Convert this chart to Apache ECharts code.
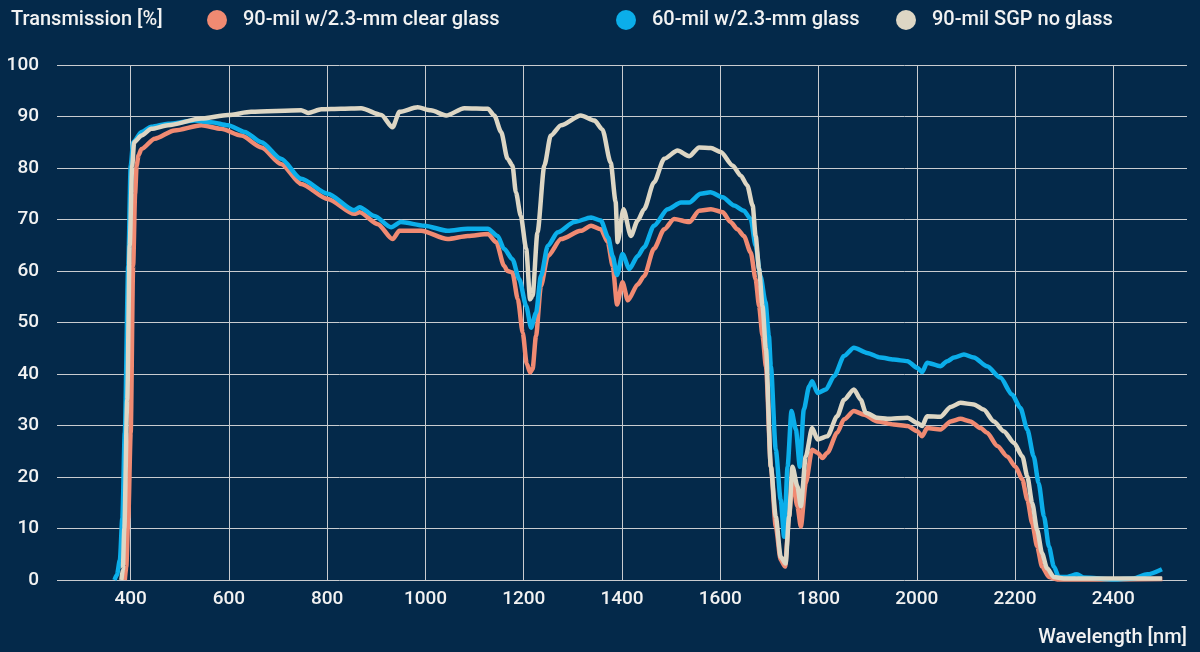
<!DOCTYPE html>
<html>
<head>
<meta charset="utf-8">
<script src="https://cdn.jsdelivr.net/npm/echarts@6/dist/echarts.min.js"></script>
<style>
  html, body { margin: 0; padding: 0; background: #04294a; }
  #chart { width: 1200px; height: 652px; }
</style>
</head>
<body>
<div id="chart"></div>
<script>
// tick labels on the wavelength axis
var xTicks = [400, 600, 800, 1000, 1200, 1400, 1600, 1800, 2000, 2200, 2400];

// 90-mil w/2.3-mm clear glass
var clearNm = [388, 391, 395, 400, 405, 409, 412, 416, 422, 449, 489, 544, 584, 625, 666, 706, 747, 801, 855, 866, 903, 933, 947, 991, 1045, 1086, 1127, 1144, 1160, 1167, 1177, 1188, 1198, 1206, 1213, 1218, 1225, 1235, 1249, 1276, 1316, 1337, 1357, 1371, 1381, 1390, 1401, 1412, 1432, 1445, 1465, 1486, 1506, 1537, 1557, 1581, 1605, 1621, 1635, 1648, 1662, 1672, 1679, 1686, 1693, 1703, 1713, 1723, 1732, 1740, 1747, 1757, 1764, 1774, 1787, 1798, 1808, 1818, 1838, 1852, 1872, 1893, 1920, 1953, 1981, 2001, 2011, 2021, 2048, 2069, 2089, 2109, 2130, 2143, 2164, 2184, 2201, 2215, 2225, 2235, 2245, 2255, 2269, 2286, 2400, 2500];
var clearT = [0, 2.5, 12, 28.6, 61, 75, 80.4, 82.5, 83.7, 85.7, 87.3, 88.3, 87.6, 86.3, 84, 80.8, 76.9, 74, 71.1, 71.4, 69.1, 66.2, 67.8, 67.8, 66.2, 66.8, 67.2, 65.6, 61, 60, 59.7, 54.5, 48, 42, 40.3, 41, 47.4, 57.1, 62.9, 66.2, 67.8, 68.8, 68.1, 65.6, 61, 53.5, 57.8, 54.3, 57.4, 59, 64.3, 68.1, 70.1, 69.5, 71.7, 72, 71.4, 69.5, 68.1, 66.8, 63.6, 58.4, 53.2, 47.4, 41.5, 22, 10.4, 3.9, 2.6, 12.3, 19.5, 14.3, 10.4, 18.8, 25.3, 24.7, 23.7, 24.7, 28.6, 31.2, 32.8, 32.1, 30.8, 30.2, 29.9, 28.9, 27.9, 29.5, 29.2, 30.8, 31.3, 30.8, 29.5, 28.6, 26, 24, 22, 19.5, 15.6, 11, 6.5, 2.6, 0.6, 0.1, 0.1, 0.2];

// 60-mil w/2.3-mm glass
var glass60Nm = [367, 372, 378, 383, 388, 395, 400, 405, 422, 442, 476, 530, 564, 598, 632, 666, 706, 747, 801, 855, 866, 896, 930, 950, 998, 1045, 1086, 1127, 1147, 1160, 1177, 1191, 1205, 1215, 1225, 1235, 1249, 1269, 1303, 1337, 1357, 1372, 1381, 1390, 1401, 1415, 1432, 1445, 1465, 1493, 1520, 1537, 1560, 1580, 1605, 1628, 1648, 1662, 1672, 1682, 1692, 1699, 1703, 1713, 1723, 1730, 1737, 1745, 1754, 1762, 1770, 1781, 1787, 1798, 1815, 1832, 1852, 1872, 1899, 1926, 1953, 1981, 2001, 2011, 2021, 2048, 2062, 2076, 2096, 2116, 2143, 2170, 2194, 2211, 2225, 2238, 2248, 2259, 2269, 2279, 2289, 2306, 2326, 2340, 2401, 2441, 2469, 2499];
var glass60T = [0, 1, 3.9, 12, 28.6, 61, 80.4, 85, 87, 88, 88.6, 89.2, 88.9, 88.3, 87, 85, 81.8, 77.9, 75, 71.8, 72.4, 70.7, 68.5, 69.5, 68.8, 67.8, 68.2, 68.2, 66.8, 64.3, 62.3, 58.4, 53.2, 49, 51.9, 59, 64.9, 67.5, 69.5, 70.4, 69.8, 66.5, 62.9, 59.2, 63.3, 60.4, 62.9, 64.6, 68.8, 72, 73.3, 73.3, 75, 75.3, 74.3, 72.7, 71.7, 70.1, 64.9, 59, 54, 47.4, 41.5, 25.3, 15.6, 8.4, 22, 32.8, 29.2, 22, 33.1, 37.6, 38.6, 36.3, 37, 39.6, 43.5, 45.1, 44.1, 43.2, 42.8, 42.5, 41.2, 40.4, 42.2, 41.5, 42.5, 43.2, 43.8, 43.2, 41.5, 39.3, 36, 33.4, 29.2, 24, 18.8, 12.3, 6.5, 2.6, 0.6, 0.6, 1.1, 0.5, 0.1, 0.3, 1.1, 2.1];

// 90-mil SGP no glass
var sgpNm = [381, 384, 387, 393, 398, 403, 407, 422, 442, 476, 544, 598, 645, 747, 761, 788, 828, 869, 910, 933, 947, 984, 1011, 1042, 1079, 1127, 1140, 1154, 1167, 1177, 1184, 1194, 1205, 1213, 1218, 1228, 1242, 1255, 1276, 1316, 1344, 1360, 1377, 1387, 1391, 1403, 1418, 1432, 1445, 1465, 1486, 1513, 1537, 1557, 1581, 1601, 1625, 1642, 1655, 1666, 1672, 1679, 1686, 1693, 1703, 1713, 1723, 1733, 1740, 1747, 1757, 1764, 1774, 1787, 1798, 1818, 1838, 1852, 1872, 1886, 1896, 1920, 1940, 1981, 2001, 2011, 2021, 2048, 2069, 2089, 2116, 2136, 2157, 2177, 2198, 2215, 2225, 2235, 2245, 2255, 2265, 2279, 2299, 2499];
var sgpT = [0, 2, 10, 35, 65, 80.4, 85, 86.3, 87.6, 88.3, 89.6, 90.3, 90.9, 91.2, 90.7, 91.4, 91.5, 91.6, 90.3, 87.9, 90.9, 91.8, 91.2, 90.2, 91.6, 91.5, 90.2, 87, 81.8, 80.5, 75.3, 70.7, 64.3, 54.5, 55.2, 67.5, 80.5, 86.3, 88.3, 90.2, 89.2, 87.5, 81, 73.5, 65.6, 72, 66.8, 69.8, 72, 77.2, 81.8, 83.4, 82.3, 84, 83.9, 83.1, 80.5, 78.5, 76.6, 72.7, 66.8, 60.4, 53.2, 44.8, 22, 12.3, 4.5, 3.2, 12.3, 22, 18.2, 14.3, 24, 29.5, 27.3, 27.9, 31.8, 35, 37, 35, 32.5, 31.5, 31.3, 31.5, 30.5, 29.9, 31.8, 31.7, 33.6, 34.4, 34.1, 33.1, 30.8, 28.9, 26.6, 24, 20.1, 14.9, 9.7, 5.2, 2.3, 0.6, 0.3, 0.3];

function pairs(xs, ys) {
    return xs.map(function (x, i) { return [x, ys[i]]; });
}

var textColor = '#f2f2f2';
var fontFamily = 'Roboto, "Noto Sans", sans-serif';

var chart = echarts.init(document.getElementById('chart'));

function lineSeries(name, color, data) {
    return {
        name: name,
        type: 'line',
        data: data,
        showSymbol: false,
        smooth: 0.25,
        smoothMonotone: 'x',
        lineStyle: { color: color, width: 4.5 },
        itemStyle: { color: color }
    };
}

function legendAt(name, left) {
    return {
        data: [{ name: name, icon: 'circle' }],
        left: left,
        top: 10,
        itemWidth: 20,
        itemHeight: 20,
        padding: 0,
        selectedMode: false,
        textStyle: { color: textColor, fontSize: 20, fontWeight: 500, fontFamily: fontFamily, padding: [0, 0, 0, 11] }
    };
}

var option = {
    backgroundColor: '#04294a',
    animation: false,
    textStyle: { fontFamily: fontFamily },
    title: [
        {
            text: 'Transmission [%]',
            left: 6,
            top: 5,
            textStyle: { color: textColor, fontSize: 20, fontWeight: 500, fontFamily: fontFamily }
        },
        {
            text: 'Wavelength [nm]',
            right: 8,
            top: 623,
            textStyle: { color: textColor, fontSize: 20, fontWeight: 500, fontFamily: fontFamily }
        }
    ],
    legend: [
        legendAt('90-mil w/2.3-mm clear glass', 207),
        legendAt('60-mil w/2.3-mm glass', 616),
        legendAt('90-mil SGP no glass', 896)
    ],
    grid: { left: 57, right: 13, top: 65, bottom: 72 },
    xAxis: {
        type: 'value',
        min: 250,
        max: 2550,
        axisLine: { show: false },
        axisTick: { show: false, customValues: xTicks },
        axisLabel: {
            customValues: xTicks,
            color: textColor,
            fontSize: 19,
            fontWeight: 500,
            margin: 10,
            formatter: function (v) { return String(v); }
        },
        splitLine: { show: true, lineStyle: { color: '#c9ccd0', width: 1 } }
    },
    yAxis: {
        type: 'value',
        min: 0,
        max: 100,
        interval: 10,
        axisLine: { show: false },
        axisTick: { show: false },
        axisLabel: { color: textColor, fontSize: 19, fontWeight: 500, margin: 18 },
        splitLine: { show: true, lineStyle: { color: '#c9ccd0', width: 1 } }
    },
    series: [
        lineSeries('90-mil w/2.3-mm clear glass', '#f08a72', pairs(clearNm, clearT)),
        lineSeries('60-mil w/2.3-mm glass', '#0baeea', pairs(glass60Nm, glass60T)),
        lineSeries('90-mil SGP no glass', '#ddd6c4', pairs(sgpNm, sgpT))
    ]
};

chart.setOption(option);
</script>
</body>
</html>
